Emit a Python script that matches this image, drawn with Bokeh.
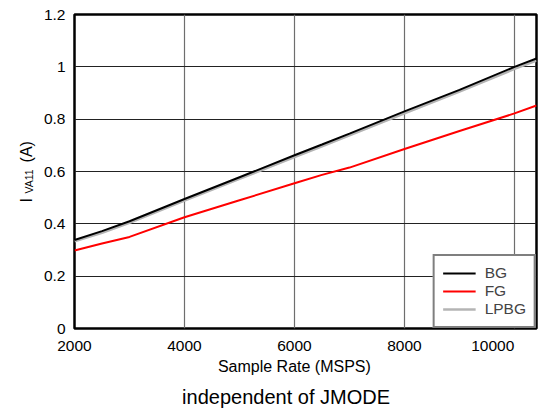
import math
from bokeh.plotting import figure
from bokeh.models import Label, Legend, LegendItem, FixedTicker, Range1d, Title
from bokeh.embed import file_html
from bokeh.resources import INLINE

# ---- data ----
rate = [2000, 2500, 3000, 4000, 5000, 6000, 6500, 7000, 8000, 9000, 10000, 10400]
bg = [0.338, 0.372, 0.410, 0.495, 0.578, 0.662, 0.703, 0.745, 0.830, 0.912, 1.000, 1.032]
fg = [0.298, 0.325, 0.350, 0.425, 0.490, 0.555, 0.587, 0.615, 0.686, 0.755, 0.822, 0.852]
lpbg = [0.333, 0.366, 0.404, 0.489, 0.572, 0.655, 0.696, 0.738, 0.822, 0.905, 0.992, 1.024]

x_ticks = [2000, 4000, 6000, 8000, 10000]
y_ticks = [0, 0.2, 0.4, 0.6, 0.8, 1, 1.2]
y_tick_labels = ["0", "0.2", "0.4", "0.6", "0.8", "1", "1.2"]

FONT = "Liberation Sans"
NB = "\u00a0"
X0, X1 = 2000, 10400
Y0, Y1 = 0, 1.2

W, H = 544, 413
ML, MR, MT, MB = 74, 8, 14, 85
FW = W - ML - MR
FH = H - MT - MB

p = figure(width=W, height=H, output_backend="svg", toolbar_location=None,
           title=None, x_range=Range1d(X0, X1), y_range=Range1d(Y0, Y1),
           min_border_left=ML, min_border_right=MR, min_border_top=MT,
           min_border_bottom=MB)
p.background_fill_color = "white"
p.border_fill_color = "white"
p.outline_line_color = "black"
p.outline_line_width = 2.5

# canvas pixel -> data coords (for the y title placement only)
def px_x(ix):
    return X0 + (ix - ML) / FW * (X1 - X0)

def px_y(iy):
    return Y0 + (MT + FH - iy) / FH * (Y1 - Y0)

# grid
p.xgrid.ticker = FixedTicker(ticks=x_ticks)
p.ygrid.ticker = FixedTicker(ticks=y_ticks)
p.xgrid.grid_line_color = "#6e6e6e"
p.xgrid.grid_line_width = 1.2
p.ygrid.grid_line_color = "#222222"
p.ygrid.grid_line_width = 1

# axes
for ax in (p.xaxis[0], p.yaxis[0]):
    ax.axis_line_color = None
    ax.major_tick_line_color = None
    ax.minor_tick_line_color = None
    ax.major_label_text_font = FONT
    ax.major_label_text_font_size = "15.5px"
    ax.major_label_text_color = "black"
    ax.axis_label_text_font = FONT
    ax.axis_label_text_font_size = "16px"
    ax.axis_label_text_font_style = "normal"
    ax.axis_label_text_color = "black"

p.xaxis.ticker = FixedTicker(ticks=x_ticks)
# last label sits left of its tick (right-aligned) in the reference
p.xaxis.major_label_overrides = {10000: "10000" + NB * 7}
p.xaxis.major_label_standoff = 2
p.xaxis.axis_label = "Sample Rate (MSPS)" + NB * 5
p.xaxis.axis_label_standoff = 1

p.yaxis.ticker = FixedTicker(ticks=y_ticks)
p.yaxis.major_label_overrides = {t: s for t, s in zip(y_ticks, y_tick_labels)}
p.yaxis.major_label_standoff = 3
p.yaxis.axis_label = None

# y title: "I (A)" with the subscript "VA11" between
p.add_layout(Label(x=px_x(25.5), y=px_y(201.9), text="I" + NB * 8 + "(A)",
                   angle=math.pi / 2, text_align="left",
                   text_baseline="alphabetic", text_font=FONT,
                   text_font_size="16px", text_color="black"), "left")
p.add_layout(Label(x=px_x(28.5), y=px_y(193.0), text="VA11",
                   angle=math.pi / 2, text_align="left",
                   text_baseline="alphabetic", text_font=FONT,
                   text_font_size="10.5px", text_color="black"), "left")

# lines
r_lp = p.line(rate, lpbg, line_color="#b4b4b4", line_width=2.5)
r_fg = p.line(rate, fg, line_color="#ff0000", line_width=2)
r_bg = p.line(rate, bg, line_color="#000000", line_width=2)

legend = Legend(items=[LegendItem(label="BG", renderers=[r_bg]),
                       LegendItem(label="FG", renderers=[r_fg]),
                       LegendItem(label="LPBG", renderers=[r_lp])],
                location="bottom_right", margin=0, padding=8, spacing=0,
                glyph_width=33, glyph_height=18, label_height=18,
                label_standoff=9, label_text_font=FONT,
                label_text_font_size="15.5px", border_line_color="black",
                border_line_width=2, background_fill_color="white",
                background_fill_alpha=1)
p.add_layout(legend, "center")

# caption below the chart
p.add_layout(Title(text="independent of JMODE" + NB * 7, align="center",
                   standoff=12, text_font=FONT, text_font_size="20px",
                   text_font_style="normal", text_color="black"), "below")

open("out.html", "w").write(file_html(p, INLINE))
